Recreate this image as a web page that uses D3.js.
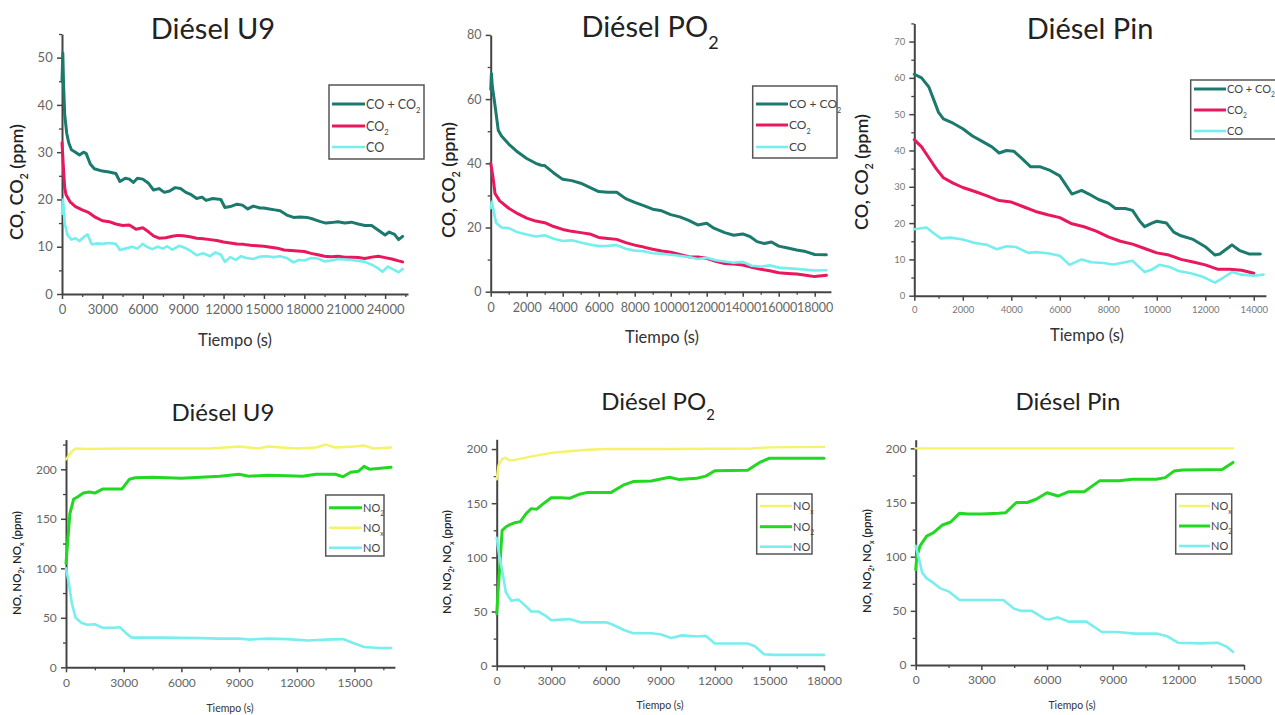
<!DOCTYPE html>
<html>
<head>
<meta charset="utf-8">
<script src="https://cdn.jsdelivr.net/npm/d3@7"></script>
<style>
  body { margin: 0; background: #fff; }
  svg { display: block; }
  text { font-family: Lato, "Open Sans", "DejaVu Sans", sans-serif; }
</style>
</head>
<body>
<svg id="chart" width="1275" height="715"></svg>
<script>
// ---------- Measured series: [tiempo (s), concentración (ppm)] ----------

// Diésel U9 — CO / CO2
const u9CoCo2 = [[0,45],[60,51],[120,44],[200,38],[350,34],[500,32],[700,30.5],[1000,30],[1300,29.4],[1600,30],[1800,29.7],[2100,27.5],[2400,26.5],[3000,26],[3500,25.8],[4000,25.5],[4300,23.8],[4700,24.5],[5000,24.3],[5300,23.6],[5600,24.5],[6000,24.3],[6400,23.5],[6800,22],[7200,22.3],[7600,21.5],[8000,21.8],[8400,22.5],[8800,22.3],[9200,21.5],[9600,21],[10000,20.2],[10400,20.5],[10700,19.8],[11200,20.2],[11800,20],[12100,18.3],[12500,18.5],[13000,19],[13400,18.8],[13800,18],[14200,18.6],[14700,18.2],[15000,18.2],[15400,18],[15800,17.8],[16200,17.6],[16700,16.7],[17200,16.2],[17700,16.3],[18200,16.2],[18700,15.8],[19200,15.3],[19600,15],[20000,15.1],[20500,15.3],[21000,15],[21500,15.2],[22000,14.8],[22500,14.5],[23000,14.5],[23500,13.5],[24000,12.5],[24300,13.1],[24700,12.6],[25000,11.5],[25300,12.2]];
const u9Co2 = [[0,32],[100,27],[200,22.5],[300,21],[600,19.5],[1000,18.5],[1500,17.8],[2000,17.2],[2500,16.2],[3000,15.5],[3500,15.3],[4000,14.8],[4500,14.5],[5000,14.6],[5500,13.7],[6000,14],[6400,13.2],[6800,12.3],[7200,11.8],[7700,11.9],[8200,12.2],[8600,12.4],[9000,12.3],[9500,12.1],[10000,11.8],[10500,11.7],[11000,11.5],[11500,11.3],[12000,11],[12500,10.8],[13000,10.6],[13500,10.5],[14000,10.3],[14500,10.2],[15000,10.1],[15500,9.9],[16000,9.7],[16500,9.3],[17000,9.2],[17500,9.1],[18000,9],[18500,8.6],[19000,8.3],[19500,8],[20000,7.9],[20500,8],[21000,7.8],[21500,7.8],[22000,7.7],[22500,7.5],[23000,7.8],[23500,8],[24000,7.7],[24500,7.4],[25000,7],[25300,6.8]];
const u9Co = [[0,17],[80,20],[200,15],[400,12.5],[700,11.5],[1000,11.8],[1300,11.2],[1600,12],[1900,12.6],[2200,10.5],[2600,10.7],[3000,10.6],[3500,10.8],[4000,10.6],[4300,9.3],[4700,9.6],[5200,10],[5600,9.6],[6000,10.6],[6300,10],[6700,9.5],[7100,10],[7500,9.6],[7800,10.1],[8200,9.4],[8700,10.2],[9100,9.8],[9500,9.2],[10000,8.2],[10500,8.6],[11000,8],[11400,8.8],[11800,8.3],[12100,6.8],[12500,7.8],[12900,7.2],[13300,8],[13700,7.6],[14200,7.4],[14700,7.9],[15200,8],[15700,7.8],[16200,8],[16700,7.6],[17200,6.7],[17600,7.2],[18000,7.1],[18500,7.6],[19000,7.5],[19500,6.9],[20000,7.1],[20500,7.4],[21000,7.3],[21500,7.2],[22000,7],[22500,6.8],[23000,6.2],[23400,5.6],[23800,4.7],[24200,5.8],[24600,5.2],[25000,4.6],[25300,5.3]];

// Diésel PO2 — CO / CO2
const po2CoCo2 = [[0,63],[40,68],[90,64],[240,58],[420,50.3],[600,48.5],[1000,46],[1500,43.5],[2000,41.5],[2500,40],[2800,39.4],[3000,39.3],[3500,37],[4000,35],[4500,34.6],[5000,33.8],[5500,32.5],[6000,31.2],[6500,31],[7000,31],[7500,29],[8000,27.8],[8500,26.8],[9000,25.7],[9500,25.2],[10000,24],[10500,23.3],[11000,22.2],[11500,20.8],[12000,21.3],[12400,19.8],[13000,18.4],[13500,17.6],[14000,18],[14400,17.2],[14800,15.6],[15200,15],[15600,15.5],[16000,14.2],[16500,13.6],[17000,13],[17500,12.5],[18000,11.6],[18650,11.5]];
const po2Co2 = [[0,40],[120,36],[240,30.6],[500,28.3],[1000,26],[1500,24.3],[2000,22.9],[2500,22],[3000,21.5],[3500,20.3],[4000,19.4],[4500,18.8],[5000,18.4],[5500,18],[6000,16.9],[6500,16.6],[7000,16.3],[7500,15.3],[8000,14.5],[8500,13.9],[9000,13.2],[9500,12.7],[10000,12.3],[10500,11.6],[11000,10.9],[11500,10.8],[12000,10.4],[12500,9.5],[13000,8.8],[13500,8.6],[14000,8.3],[14500,7.6],[15000,7],[15500,6.5],[16000,5.9],[16500,5.7],[17000,5.5],[17500,5.1],[18000,4.7],[18650,5.1]];
const po2Co = [[0,26],[60,28],[300,21.5],[600,20],[1000,19.8],[1500,18.5],[2000,17.8],[2500,17.2],[3000,17.6],[3500,16.5],[4000,15.8],[4500,16],[5000,15.3],[5500,14.7],[6000,14.2],[6500,14.3],[7000,14.5],[7500,13.4],[8000,12.8],[8500,12.6],[9000,12],[9500,11.8],[10000,11.5],[10500,11.2],[11000,10.8],[11500,10.2],[12000,10.6],[12500,9.8],[13000,9.4],[13500,9],[14000,9.3],[14500,8.1],[15000,7.8],[15500,8.2],[16000,7.5],[17000,7.1],[18000,6.6],[18650,6.7]];

// Diésel Pin — CO / CO2
const pinCoCo2 = [[0,61],[300,60],[600,57.5],[800,54],[1000,50.5],[1200,48.7],[1600,47.5],[2000,46],[2400,44],[2800,42.5],[3200,41],[3500,39.3],[3800,40],[4100,39.8],[4400,38],[4800,35.5],[5200,35.5],[5600,34.5],[6000,33],[6200,31],[6500,28],[6900,29],[7200,28],[7600,26.5],[8000,25.5],[8300,24],[8700,24],[9000,23.5],[9300,20.5],[9500,19],[9800,20],[10000,20.5],[10400,20],[10700,17.5],[11000,16.5],[11500,15.5],[12000,13.5],[12400,11.2],[12600,11.5],[13000,13.5],[13100,14],[13400,12.5],[13800,11.5],[14270,11.5]];
const pinCo2 = [[0,43],[300,41],[600,38],[900,35],[1200,32.5],[1600,31],[2000,29.8],[2500,28.7],[3000,27.5],[3500,26.2],[4000,25.8],[4500,24.5],[5000,23.2],[5500,22.3],[6000,21.5],[6500,19.8],[7000,19],[7500,17.8],[8000,16.2],[8500,15],[9000,14.2],[9500,13],[10000,11.8],[10500,11.2],[11000,10],[11500,9.3],[12000,8.5],[12500,7.3],[13000,7.3],[13500,7],[14000,6.2]];
const pinCo = [[0,18.3],[500,18.8],[800,17.2],[1100,15.8],[1500,16],[2000,15.5],[2500,14.5],[3000,14],[3400,12.8],[3800,13.6],[4200,13.4],[4700,11.8],[5000,12],[5500,11.7],[6000,11],[6400,8.5],[6900,10],[7300,9.2],[7800,9],[8200,8.6],[8700,9.2],[9000,9.6],[9500,6.5],[9800,7.2],[10100,8.5],[10500,8],[10900,6.8],[11400,6.2],[11900,5.2],[12400,3.6],[12700,4.8],[13100,6.5],[13500,5.8],[14000,5.5],[14400,5.8]];

// Diésel U9 — NO / NO2 / NOx
const u9Nox = [[0,210],[300,218],[500,221],[1000,220.5],[3000,221],[6000,221],[7500,221],[9000,223],[9500,222],[10000,221],[10500,223],[12000,221],[13000,222],[13500,225],[14000,222],[15000,223],[15500,224],[16000,221],[16900,222]];
const u9No2 = [[0,105],[100,130],[200,155],[400,170],[600,172],[900,176],[1200,177],[1500,176],[1900,180],[2500,180],[2900,180],[3300,190],[3600,191.5],[4500,192],[6000,191],[7000,192],[8000,193],[9000,195],[9500,193],[10500,194],[11500,193.5],[12300,193],[13000,195],[14000,195],[14400,192.5],[14800,197],[15200,198],[15500,203],[15800,200],[16900,202]];
const u9No = [[0,100],[150,85],[300,65],[500,50],[800,45],[1100,43],[1500,43.5],[1900,40],[2500,40],[2800,40.5],[3100,35],[3400,30],[5000,30],[7000,29.5],[8000,29],[9000,29],[9500,28],[10500,29],[11500,28.5],[12600,27],[13500,28],[14400,28.5],[15000,24],[15500,20.5],[16300,19.5],[16900,19.5]];

// Diésel PO2 — NO / NO2 / NOx
const po2Nox = [[0,172],[100,185],[300,191],[500,192],[700,189.5],[1000,190],[2000,193.5],[3000,196.5],[4000,198],[5000,199.3],[6000,200],[9000,200],[12000,200.3],[14000,200.5],[15000,201.5],[18000,202]];
const po2No2 = [[0,48],[100,75],[200,100],[300,125],[500,128],[700,130],[1000,132],[1300,133],[1600,140],[1900,145],[2200,144.5],[2600,150],[3000,155],[3500,155],[4000,154.5],[4500,158],[5000,160],[6000,160],[6300,160],[7000,167],[7500,170],[8500,170.5],[9500,174],[10000,172],[11000,173],[11500,175],[12000,180],[13800,180.5],[14500,188],[15000,191.5],[16500,191.5],[18000,191.5]];
const po2No = [[0,118],[150,100],[300,88],[500,68],[800,60],[1200,61],[1600,55],[1900,50],[2300,50],[2700,46],[3000,42],[3500,42.5],[4000,43],[4600,40],[6000,40],[6300,38.5],[7000,33],[7500,30],[8500,30],[9000,29],[9600,25.5],[10200,28],[11000,27],[11500,27.5],[12000,20.5],[13800,20.5],[14200,18],[14700,10.5],[15200,10],[18000,10]];

// Diésel Pin — NO / NO2 / NOx
const pinNox = [[0,200],[14500,200]];
const pinNo2 = [[0,88],[50,100],[200,110],[500,119],[800,122],[1200,129],[1600,132],[2000,140],[2400,139.5],[3000,139.5],[3800,140],[4100,140.5],[4600,150],[5100,150],[5500,153],[6000,159],[6500,156],[7000,160],[7700,160],[8400,170],[9300,170],[9900,171.5],[11000,171.5],[11400,173],[11800,179],[12200,180],[14000,180.5],[14500,187]];
const pinNo = [[0,110],[150,98],[300,85],[500,80],[800,76],[1100,71],[1500,68],[2000,60],[3000,60],[4000,60],[4500,52],[4800,50],[5300,50],[5900,42.5],[6100,42],[6500,44],[7000,40],[7800,40],[8500,30.5],[9200,30.5],[10000,29],[11000,29],[11500,26.5],[12000,20.5],[13000,20],[13800,20.5],[14200,17],[14500,12]];

// ---------- Tick values ----------
const ticksXU9Co = [0,3000,6000,9000,12000,15000,18000,21000,24000];
const ticksYU9Co = [0,10,20,30,40,50];
const ticksXPo2Co = [0,2000,4000,6000,8000,10000,12000,14000,16000,18000];
const ticksYPo2Co = [0,20,40,60,80];
const ticksXPinCo = [0,2000,4000,6000,8000,10000,12000,14000];
const ticksYPinCo = [0,10,20,30,40,50,60,70];
const ticksXU9No = [0,3000,6000,9000,12000,15000];
const ticksXPo2No = [0,3000,6000,9000,12000,15000,18000];
const ticksXPinNo = [0,3000,6000,9000,12000,15000];
const ticksYNo = [0,50,100,150,200];

// ---------- Series colours ----------
const C_SUM = "#1b7a6d", C_CO2 = "#e8185f", C_CO = "#74eeee";
const C_NO2 = "#22d822", C_NOX = "#f4f36a", C_NO = "#7aeeee";

const svg = d3.select("#chart");

// Text with optional subscripts, written as "CO_2"
function richText(sel, str, subSize, subDy) {
  const parts = str.split(/_(\w)/);
  let back = 0;
  parts.forEach((p, i) => {
    if (!p) return;
    if (i % 2 === 1) {
      sel.append("tspan").attr("font-size", subSize).attr("dy", subDy).text(p);
      back = -subDy;
    } else {
      const t = sel.append("tspan").text(p);
      if (back) { t.attr("dy", back); back = 0; }
    }
  });
}

const panels = [
  { title: "Diésel U9", tx: 213, ty: 39, tsize: 29,
    xd: [0, 25700], xr: [62, 408], yd: [0, 55], yr: [294, 34],
    xt: ticksXU9Co, yt: ticksYU9Co, xm: 1500, ym: 5, tick: 13, tickCol: "#666",
    xl: { text: "Tiempo (s)", x: 235, y: 346, size: 16.5 },
    yl: { text: "CO, CO_2 (ppm)", x: 23, y: 182, size: 18 },
    lg: { x: 329, y: 85, w: 95, h: 74, rows: [104, 126, 147], lx: [332, 365], size: 12.5 },
    series: [
      { d: u9CoCo2, c: C_SUM, w: 3, n: "CO + CO_2" },
      { d: u9Co2, c: C_CO2, w: 3, n: "CO_2" },
      { d: u9Co, c: C_CO, w: 2.6, n: "CO" } ] },
  { title: "Diésel PO_2", tx: 650, ty: 37, tsize: 29,
    xd: [0, 18900], xr: [490.7, 830.9], yd: [0, 80], yr: [291.7, 34.9],
    xt: ticksXPo2Co, yt: ticksYPo2Co, xm: 1000, ym: 10, tick: 12.5, tickCol: "#666",
    xl: { text: "Tiempo (s)", x: 662, y: 343, size: 16.5 },
    yl: { text: "CO, CO_2 (ppm)", x: 455, y: 180, size: 18 },
    lg: { x: 752.7, y: 86, w: 84.3, h: 72, rows: [104, 125, 147], lx: [756, 788], size: 12 },
    series: [
      { d: po2CoCo2, c: C_SUM, w: 3, n: "CO + CO_2" },
      { d: po2Co2, c: C_CO2, w: 3, n: "CO_2" },
      { d: po2Co, c: C_CO, w: 2.6, n: "CO" } ] },
  { title: "Diésel Pin", tx: 1090, ty: 39, tsize: 29,
    xd: [0, 14500], xr: [914.3, 1265.9], yd: [0, 75], yr: [295.7, 23.4],
    xt: ticksXPinCo, yt: ticksYPinCo, xm: 1000, ym: 5, tick: 9.5, tickCol: "#777",
    xl: { text: "Tiempo (s)", x: 1087, y: 341, size: 16.5 },
    yl: { text: "CO, CO_2 (ppm)", x: 868, y: 172, size: 18 },
    lg: { x: 1190.7, y: 80, w: 95, h: 59, rows: [89, 110, 131], lx: [1194, 1226], size: 11 },
    series: [
      { d: pinCoCo2, c: C_SUM, w: 3, n: "CO + CO_2" },
      { d: pinCo2, c: C_CO2, w: 3, n: "CO_2" },
      { d: pinCo, c: C_CO, w: 2.6, n: "CO" } ] },
  { title: "Diésel U9", tx: 223, ty: 421, tsize: 24,
    xd: [0, 17100], xr: [66, 394.9], yd: [0, 230], yr: [667.3, 439.6],
    xt: ticksXU9No, yt: ticksYNo, xm: 1500, ym: 25, tick: 12, tickCol: "#666",
    xl: { text: "Tiempo (s)", x: 230, y: 712, size: 10.5 },
    yl: { text: "NO, NO_2, NO_x (ppm)", x: 21, y: 563, size: 11.5 },
    lg: { x: 325.7, y: 495, w: 58.3, h: 61, rows: [507.7, 527.7, 547.7], lx: [329, 362], size: 11 },
    series: [
      { d: u9Nox, c: C_NOX, w: 2.4, n: "NO_x" },
      { d: u9No2, c: C_NO2, w: 3, n: "NO_2" },
      { d: u9No, c: C_NO, w: 2.6, n: "NO" } ],
    order: [1, 0, 2] },
  { title: "Diésel PO_2", tx: 658, ty: 410, tsize: 24,
    xd: [0, 18000], xr: [496.7, 824], yd: [0, 209], yr: [665.7, 439.3],
    xt: ticksXPo2No, yt: ticksYNo, xm: 1500, ym: 25, tick: 12, tickCol: "#666",
    xl: { text: "Tiempo (s)", x: 660, y: 709, size: 10.5 },
    yl: { text: "NO, NO_2, NO_x (ppm)", x: 451, y: 562, size: 11.5 },
    lg: { x: 756.7, y: 494, w: 55.3, h: 60, rows: [506, 526.7, 546.7], lx: [760, 792], size: 11 },
    series: [
      { d: po2Nox, c: C_NOX, w: 2.4, n: "NO_x" },
      { d: po2No2, c: C_NO2, w: 3, n: "NO_2" },
      { d: po2No, c: C_NO, w: 2.6, n: "NO" } ] },
  { title: "Diésel Pin", tx: 1068, ty: 410, tsize: 24,
    xd: [0, 15000], xr: [915.7, 1244], yd: [0, 208], yr: [665, 439.7],
    xt: ticksXPinNo, yt: ticksYNo, xm: 1500, ym: 25, tick: 12, tickCol: "#666",
    xl: { text: "Tiempo (s)", x: 1072, y: 709, size: 10.5 },
    yl: { text: "NO, NO_2, NO_x (ppm)", x: 871, y: 561, size: 11.5 },
    lg: { x: 1175.7, y: 494, w: 56, h: 60, rows: [506, 526, 546], lx: [1179, 1210], size: 11 },
    series: [
      { d: pinNox, c: C_NOX, w: 2.4, n: "NO_x" },
      { d: pinNo2, c: C_NO2, w: 3, n: "NO_2" },
      { d: pinNo, c: C_NO, w: 2.6, n: "NO" } ] }
];

panels.forEach(p => {
  const g = svg.append("g");
  const x = d3.scaleLinear().domain(p.xd).range(p.xr);
  const y = d3.scaleLinear().domain(p.yd).range(p.yr);

  // minor ticks (no labels)
  const xMinor = d3.range(p.xd[0], p.xd[1] + 1, p.xm).filter(v => !p.xt.includes(v));
  const yMinor = d3.range(p.yd[0], p.yd[1] + 0.001, p.ym).filter(v => !p.yt.includes(v));
  g.append("g").attr("transform", `translate(0,${p.yr[0]})`)
    .call(d3.axisBottom(x).tickValues(xMinor).tickSize(3).tickSizeOuter(0))
    .call(a => { a.select(".domain").remove(); a.selectAll("text").remove(); })
    .call(a => a.selectAll("line").attr("stroke", "#444").attr("stroke-width", 1.3));
  g.append("g").attr("transform", `translate(${p.xr[0]},0)`)
    .call(d3.axisLeft(y).tickValues(yMinor).tickSize(3).tickSizeOuter(0))
    .call(a => { a.select(".domain").remove(); a.selectAll("text").remove(); })
    .call(a => a.selectAll("line").attr("stroke", "#444").attr("stroke-width", 1.3));

  // major axes
  const ax = g.append("g").attr("transform", `translate(0,${p.yr[0]})`)
    .call(d3.axisBottom(x).tickValues(p.xt).tickSize(5).tickSizeOuter(0).tickFormat(d3.format("d")));
  const ay = g.append("g").attr("transform", `translate(${p.xr[0]},0)`)
    .call(d3.axisLeft(y).tickValues(p.yt).tickSize(5).tickSizeOuter(0).tickFormat(d3.format("d")));
  [ax, ay].forEach(a => {
    a.select(".domain").attr("stroke", "#444").attr("stroke-width", 2);
    a.selectAll(".tick line").attr("stroke", "#444").attr("stroke-width", 1.5);
    a.selectAll(".tick text").attr("fill", p.tickCol).attr("font-size", p.tick)
      .attr("font-family", "Lato, 'Open Sans', sans-serif");
  });
  ax.selectAll(".tick text").attr("dy", "0.95em");
  ay.selectAll(".tick text").attr("dx", "-0.1em");

  // series
  const line = d3.line().x(d => x(d[0])).y(d => y(d[1]));
  g.append("g").attr("fill", "none").attr("stroke-linejoin", "round").attr("stroke-linecap", "round")
    .selectAll("path").data(p.series).join("path")
    .attr("d", s => line(s.d)).attr("stroke", s => s.c).attr("stroke-width", s => s.w);

  // title
  const t = g.append("text").attr("x", p.tx).attr("y", p.ty).attr("text-anchor", "middle")
    .attr("font-size", p.tsize).attr("fill", "#222");
  richText(t, p.title, p.tsize * 0.62, p.tsize * 0.42);

  // axis labels
  g.append("text").attr("x", p.xl.x).attr("y", p.xl.y).attr("text-anchor", "middle")
    .attr("font-size", p.xl.size).attr("fill", "#333").text(p.xl.text);
  const yl = g.append("text").attr("transform", `translate(${p.yl.x},${p.yl.y}) rotate(-90)`)
    .attr("text-anchor", "middle").attr("font-size", p.yl.size).attr("fill", "#222")
    .attr("font-weight", 600);
  richText(yl, p.yl.text, p.yl.size * 0.6, p.yl.size * 0.3);

  // legend
  const lg = g.append("g");
  lg.append("rect").attr("x", p.lg.x).attr("y", p.lg.y).attr("width", p.lg.w).attr("height", p.lg.h)
    .attr("fill", "#fff").attr("stroke", "#555").attr("stroke-width", 1.5);
  const order = p.order || [0, 1, 2];
  order.forEach((si, i) => {
    const s = p.series[si];
    const yy = p.lg.rows[i];
    lg.append("line").attr("x1", p.lg.lx[0]).attr("x2", p.lg.lx[1]).attr("y1", yy).attr("y2", yy)
      .attr("stroke", s.c).attr("stroke-width", s.w);
    const tt = lg.append("text").attr("x", p.lg.lx[1] + 1).attr("y", yy + p.lg.size * 0.36)
      .attr("font-size", p.lg.size).attr("fill", "#444");
    richText(tt, s.n, p.lg.size * 0.6, p.lg.size * 0.35);
  });
});
</script>
</body>
</html>
